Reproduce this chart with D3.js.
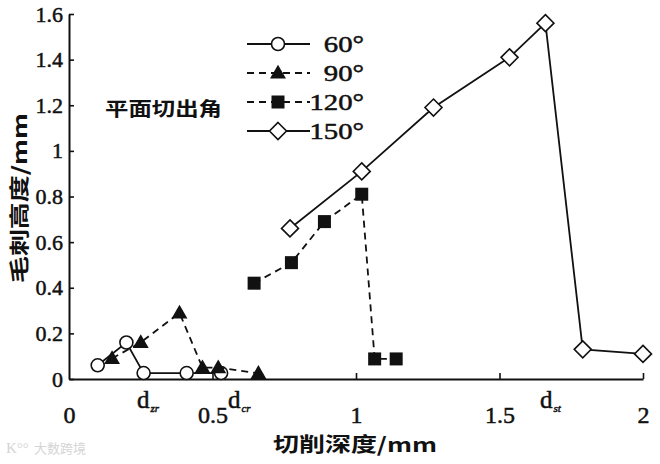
<!DOCTYPE html>
<html>
<head>
<meta charset="utf-8">
<script src="https://cdn.jsdelivr.net/npm/d3@7"></script>
<style>
  body { margin: 0; background: #fff; }
  svg { display: block; }
  .serif { font-family: "Liberation Serif", "DejaVu Serif", serif; stroke: #111; stroke-width: 0.5px; }
  .cjk { font-family: "Noto Sans CJK SC", sans-serif; }
</style>
</head>
<body>
<div id="chart"></div>
<script>
// burr height vs cutting depth, four exit angles
const angles = ["60°", "90°", "120°", "150°"];

const depth60 = [0.1, 0.2, 0.26, 0.41, 0.53];
const burr60 = [0.06, 0.16, 0.026, 0.026, 0.026];

const depth90 = [0.15, 0.25, 0.385, 0.465, 0.52, 0.66];
const burr90 = [0.09, 0.16, 0.29, 0.05, 0.05, 0.025];

const depth120 = [0.645, 0.775, 0.89, 1.02, 1.065, 1.14];
const burr120 = [0.42, 0.51, 0.69, 0.81, 0.088, 0.088];

const depth150 = [0.77, 1.02, 1.27, 1.535, 1.66, 1.79, 2.0];
const burr150 = [0.66, 0.91, 1.19, 1.41, 1.56, 0.13, 0.11];

const xTicks = [0, 0.5, 1, 1.5, 2];
const yTicks = [0, 0.2, 0.4, 0.6, 0.8, 1, 1.2, 1.4, 1.6];

// critical depth marks under the x axis
const critLabels = ["zr", "cr", "st"];
const critDepth = [0.237, 0.554, 1.641];

const width = 660, height = 464;

const svg = d3.select("#chart").append("svg")
  .attr("width", width)
  .attr("height", height);

svg.append("rect").attr("width", width).attr("height", height).attr("fill", "#fff");

const x = d3.scaleLinear().domain([0, 2]).range([69, 643]);
const y = d3.scaleLinear().domain([0, 1.6]).range([379, 14]);

// axes, ticks point inward
const xAxis = svg.append("g")
  .attr("transform", `translate(0,${y(0)})`)
  .call(d3.axisBottom(x).tickValues(xTicks).tickFormat(d => String(d))
    .tickSizeInner(-6).tickSizeOuter(0).tickPadding(27));

const yAxis = svg.append("g")
  .attr("transform", `translate(${x(0)},0)`)
  .call(d3.axisLeft(y).tickValues(yTicks).tickFormat(d => String(d))
    .tickSizeInner(-5).tickSizeOuter(0).tickPadding(6));

[xAxis, yAxis].forEach(g => {
  g.attr("font-family", null).attr("font-size", null);
  g.select(".domain").attr("stroke", "#111").attr("stroke-width", 2);
  g.selectAll(".tick line").attr("stroke", "#111").attr("stroke-width", 1.6);
  g.selectAll(".tick text")
    .attr("class", "serif")
    .attr("fill", "#111");
});
xAxis.selectAll(".tick text").style("font-size", "24px");
yAxis.selectAll(".tick text").style("font-size", "22px");
xAxis.selectAll(".tick").filter(d => d === 0).select("line").remove();

// series
const series = [
  { name: angles[0], xs: depth60, ys: burr60, dash: null, shape: "circle" },
  { name: angles[1], xs: depth90, ys: burr90, dash: "7,5", shape: "triangle" },
  { name: angles[2], xs: depth120, ys: burr120, dash: "7,5", shape: "square" },
  { name: angles[3], xs: depth150, ys: burr150, dash: null, shape: "diamond" }
];

const line = d3.line().x(d => x(d[0])).y(d => y(d[1]));

function drawMarker(g, shape, cx, cy) {
  if (shape === "circle") {
    g.append("circle").attr("cx", cx).attr("cy", cy).attr("r", 6.5)
      .attr("fill", "#fff").attr("stroke", "#111").attr("stroke-width", 1.6);
  } else if (shape === "triangle") {
    g.append("path")
      .attr("d", d3.symbol(d3.symbolTriangle, 110)())
      .attr("transform", `translate(${cx},${cy + 1})`)
      .attr("fill", "#111");
  } else if (shape === "square") {
    g.append("rect").attr("x", cx - 6.5).attr("y", cy - 6.5)
      .attr("width", 13).attr("height", 13).attr("fill", "#111");
  } else {
    g.append("path")
      .attr("d", `M0,-8.5L8.5,0L0,8.5L-8.5,0Z`)
      .attr("transform", `translate(${cx},${cy})`)
      .attr("fill", "#fff").attr("stroke", "#111").attr("stroke-width", 1.6);
  }
}

series.forEach(s => {
  const pts = s.xs.map((v, i) => [v, s.ys[i]]);
  svg.append("path")
    .attr("d", line(pts))
    .attr("fill", "none")
    .attr("stroke", "#111")
    .attr("stroke-width", 1.8)
    .attr("stroke-dasharray", s.dash);
  const g = svg.append("g");
  pts.forEach(p => drawMarker(g, s.shape, x(p[0]), y(p[1])));
});

// legend
const legend = svg.append("g");
series.forEach((s, i) => {
  const ly = 44 + i * 29;
  legend.append("line")
    .attr("x1", 247).attr("x2", 310).attr("y1", ly).attr("y2", ly)
    .attr("stroke", "#111").attr("stroke-width", 1.8)
    .attr("stroke-dasharray", s.dash);
  drawMarker(legend, s.shape, 278, ly);
  legend.append("text")
    .attr("class", "serif")
    .attr("transform", `translate(364,${ly + 8}) scale(1.25,1)`)
    .attr("text-anchor", "end")
    .style("font-size", "23px")
    .attr("fill", "#111")
    .text(s.name);
});
legend.append("text")
  .attr("class", "cjk")
  .attr("x", 105).attr("y", 116)
  .style("font-size", "19px").style("font-weight", "bold")
  .attr("textLength", 117).attr("lengthAdjust", "spacingAndGlyphs")
  .attr("fill", "#111")
  .text("平面切出角");

// d_zr, d_cr, d_st
critLabels.forEach((c, i) => {
  const t = svg.append("text")
    .attr("class", "serif")
    .attr("x", x(critDepth[i])).attr("y", 408)
    .style("font-size", "25px")
    .attr("fill", "#111")
    .text("d");
  t.append("tspan").style("font-size", "11px").style("font-style", "italic")
    .attr("dx", 1).attr("dy", 4).text(c);
});

// axis titles
svg.append("text")
  .attr("class", "cjk")
  .attr("x", 273).attr("y", 452)
  .style("font-size", "20px").style("font-weight", "bold")
  .attr("textLength", 164).attr("lengthAdjust", "spacingAndGlyphs")
  .attr("fill", "#111")
  .text("切削深度/mm");

svg.append("text")
  .attr("class", "cjk")
  .attr("transform", "translate(27,283) rotate(-90)")
  .style("font-size", "20px").style("font-weight", "bold")
  .attr("textLength", 170).attr("lengthAdjust", "spacingAndGlyphs")
  .attr("fill", "#111")
  .text("毛刺高度/mm");

// faint watermark
svg.append("text")
  .attr("class", "cjk")
  .attr("x", 34).attr("y", 453)
  .style("font-size", "13px")
  .attr("fill", "#d4d4d4")
  .text("大数跨境");
svg.append("text")
  .attr("x", 6).attr("y", 453)
  .style("font-family", "'Liberation Serif', serif")
  .style("font-size", "15px")
  .attr("fill", "#d4d4d4")
  .text("K°°");
</script>
</body>
</html>
